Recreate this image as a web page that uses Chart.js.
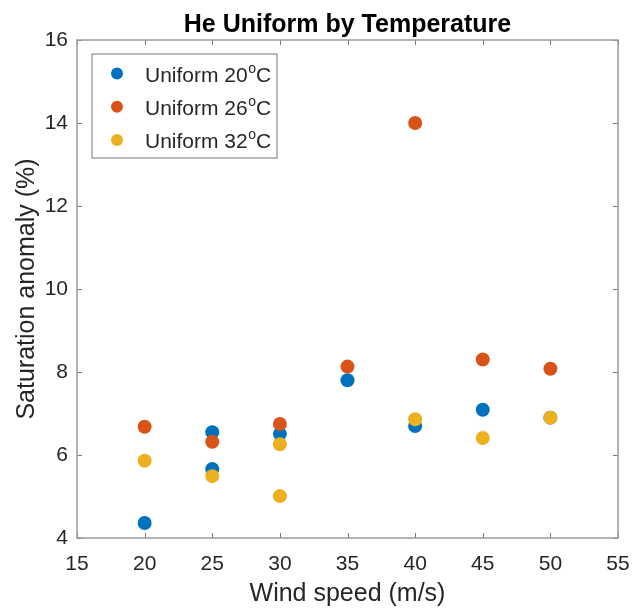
<!DOCTYPE html>
<html>
<head>
<meta charset="utf-8">
<title>He Uniform by Temperature</title>
<script src="https://cdn.jsdelivr.net/npm/chart.js@4.4.1/dist/chart.umd.min.js"></script>
<style>
  html, body { margin: 0; padding: 0; background: #fff; }
  #wrap { width: 633px; height: 609px; }
</style>
</head>
<body>
<div id="wrap"><canvas id="chart" width="633" height="609"></canvas></div>
<script>
// wind speed (m/s) and saturation anomaly (%) per temperature run
const wind20 = [20, 25, 25, 30, 35, 40, 45, 50];
const sat20 = [4.36, 6.55, 5.66, 6.51, 7.80, 6.70, 7.09, 6.90];
const wind26 = [20, 25, 30, 35, 40, 45, 50];
const sat26 = [6.68, 6.32, 6.75, 8.13, 14.0, 8.30, 8.08];
const wind32 = [20, 25, 30, 30, 40, 45, 50];
const sat32 = [5.86, 5.49, 6.26, 5.01, 6.86, 6.41, 6.90];

const seriesTemps = ['20', '26', '32'];
const seriesColors = ['#0072BD', '#D95319', '#EDB120'];

const FONT = '"Liberation Sans", Arial, Helvetica, sans-serif';
const TEXT = '#262626';
const FRAME = '#9a9a9a';

function toPoints(xs, ys) {
  return xs.map((x, i) => ({ x, y: ys[i] }));
}

// box, inward ticks, title and the in-axes legend
const frameAndLegend = {
  id: 'frameAndLegend',
  afterDraw(c) {
    const { ctx, chartArea: a, scales } = c;
    ctx.save();

    // inward ticks on all four sides
    ctx.strokeStyle = '#7a7a7a';
    ctx.lineWidth = 1;
    const tl = 5;
    scales.x.ticks.forEach((t) => {
      const px = Math.round(scales.x.getPixelForValue(t.value)) + 0.5;
      ctx.beginPath();
      ctx.moveTo(px, a.bottom); ctx.lineTo(px, a.bottom - tl);
      ctx.moveTo(px, a.top); ctx.lineTo(px, a.top + tl);
      ctx.stroke();
    });
    scales.y.ticks.forEach((t) => {
      const py = Math.round(scales.y.getPixelForValue(t.value)) + 0.5;
      ctx.beginPath();
      ctx.moveTo(a.left, py); ctx.lineTo(a.left + tl, py);
      ctx.moveTo(a.right, py); ctx.lineTo(a.right - tl, py);
      ctx.stroke();
    });

    // frame
    ctx.strokeStyle = FRAME;
    ctx.lineWidth = 1.5;
    ctx.strokeRect(a.left, a.top, a.right - a.left, a.bottom - a.top);

    // title
    ctx.fillStyle = '#000';
    ctx.font = 'bold 25px ' + FONT;
    ctx.textAlign = 'center';
    ctx.textBaseline = 'alphabetic';
    ctx.fillText('He Uniform by Temperature', (a.left + a.right) / 2, 32);

    // legend box
    const lx = 92, ly = 54, lw = 185, lh = 104;
    ctx.fillStyle = '#fff';
    ctx.fillRect(lx, ly, lw, lh);
    ctx.strokeStyle = '#8c8c8c';
    ctx.lineWidth = 1.2;
    ctx.strokeRect(lx, ly, lw, lh);

    seriesTemps.forEach((temp, i) => {
      const cy = 73.5 + i * 33.3;
      ctx.fillStyle = seriesColors[i];
      ctx.beginPath();
      ctx.arc(117, cy, 6, 0, Math.PI * 2);
      ctx.fill();

      ctx.fillStyle = TEXT;
      ctx.textAlign = 'left';
      ctx.textBaseline = 'alphabetic';
      const base = cy + 8;
      ctx.font = '21px ' + FONT;
      const head = 'Uniform ' + temp;
      ctx.fillText(head, 145, base);
      let x = 145 + ctx.measureText(head).width;
      ctx.font = '14px ' + FONT;
      ctx.fillText('o', x + 0.5, base - 9);
      x += ctx.measureText('o').width + 0.5;
      ctx.font = '21px ' + FONT;
      ctx.fillText('C', x, base);
    });

    ctx.restore();
  }
};

const datasets = [wind20, wind26, wind32].map((xs, i) => ({
  label: 'Uniform ' + seriesTemps[i] + '\u1D52C',
  data: toPoints(xs, [sat20, sat26, sat32][i]),
  backgroundColor: seriesColors[i],
  pointBackgroundColor: seriesColors[i],
  pointBorderWidth: 0,
  pointRadius: 7,
  pointHoverRadius: 7,
  order: 3 - i
}));

new Chart(document.getElementById('chart'), {
  type: 'scatter',
  data: { datasets },
  options: {
    responsive: false,
    animation: false,
    events: [],
    layout: { padding: { top: 40, right: 15, left: 0, bottom: 0 } },
    plugins: {
      legend: { display: false },
      title: { display: false },
      tooltip: { enabled: false }
    },
    scales: {
      x: {
        type: 'linear',
        min: 15,
        max: 55,
        ticks: { stepSize: 5, color: TEXT, font: { family: FONT, size: 21 }, padding: 14, maxRotation: 0 },
        grid: { display: false, drawTicks: false },
        border: { display: false },
        title: { display: true, text: 'Wind speed (m/s)', color: TEXT, font: { family: FONT, size: 25 }, padding: { top: 1, bottom: 0 } },
        afterFit(s) { s.height = 71; s.paddingLeft = 0; s.paddingRight = 0; }
      },
      y: {
        type: 'linear',
        min: 4,
        max: 16,
        ticks: { stepSize: 2, color: TEXT, font: { family: FONT, size: 21 }, padding: 9 },
        grid: { display: false, drawTicks: false },
        border: { display: false },
        title: { display: true, text: 'Saturation anomaly (%)', color: TEXT, font: { family: FONT, size: 25 }, padding: { top: 12, bottom: 0 } },
        afterFit(s) { s.width = 77; s.paddingTop = 0; s.paddingBottom = 0; }
      }
    }
  },
  plugins: [frameAndLegend]
});
</script>
</body>
</html>
